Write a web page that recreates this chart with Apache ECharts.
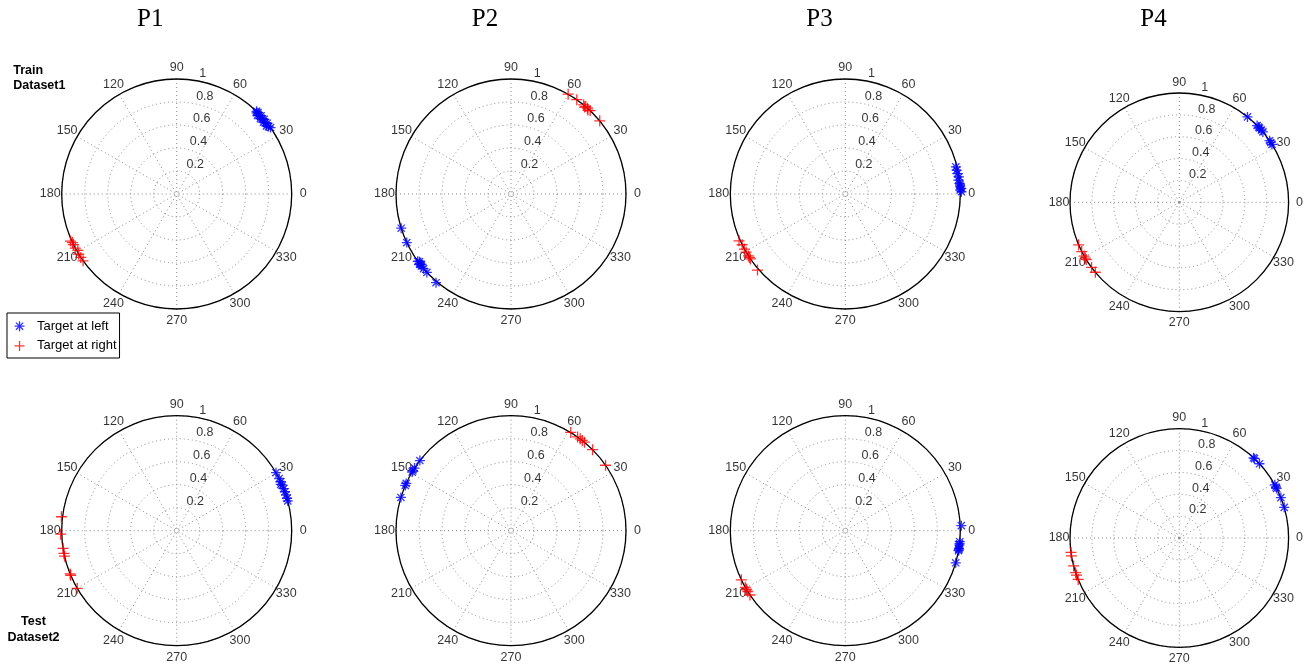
<!DOCTYPE html>
<html>
<head>
<meta charset="utf-8">
<script src="https://cdn.jsdelivr.net/npm/echarts@6/dist/echarts.min.js"></script>
<style>
html,body{margin:0;padding:0;background:#fff;}
#chart{width:1308px;height:666px;}
</style>
</head>
<body>
<div id="chart"></div>
<script>
// ---------- text / tick data ----------
const panelTitles = ['P1', 'P2', 'P3', 'P4'];
const rowLabels = ['Train\nDataset1', 'Test\nDataset2'];
const seriesNames = ['Target at left', 'Target at right'];
const angleTicks = [0, 30, 60, 90, 120, 150, 180, 210, 240, 270, 300, 330];
const radiusTicks = [0.2, 0.4, 0.6, 0.8, 1];

// ---------- series data: [radius, angle in degrees] ----------
const trainP1Left = [[1.0,46],[0.99,45.5],[1.0,45],[0.98,44.2],[0.99,43.5],[1.0,42.8],[0.98,42],[0.99,41.2],[1.0,40.5],[0.98,39.6],[0.99,38.8],[1.0,38],[0.98,37.2],[0.99,36.3],[1.0,35.3]];
const trainP1Right = [[1.01,203.9],[1.0,205],[1.0,206.1],[1.0,208.1],[0.99,209.7],[1.0,211.6],[1.0,213.5],[1.0,215.5]];

const trainP2Left = [[1.0,197.3],[1.0,205],[1.0,215.8],[0.99,216.5],[1.0,217.4],[1.0,217.8],[0.99,218.2],[1.0,218.8],[1.0,220.5],[1.0,223],[1.01,229.8]];
const trainP2Right = [[1.0,60.2],[1.0,55.1],[1.0,50.8],[0.99,49.8],[1.0,49.5],[1.0,48.3],[0.99,47.5],[1.0,46.5],[1.0,39.5]];

const trainP3Left = [[0.99,13.8],[0.99,12.1],[0.99,10.3],[1.0,8.6],[0.99,7.0],[1.0,5.3],[1.0,4.5],[1.0,3.6],[1.01,2.8],[1.0,2.0],[1.01,1.1]];
const trainP3Right = [[1.01,203.8],[1.0,206.2],[1.0,208.6],[1.0,210.4],[1.0,212.6],[1.0,213.5],[1.0,214.4],[1.01,220.9]];

const trainP4Left = [[1.0,51.4],[1.0,44.6],[1.0,43.5],[1.0,42.8],[1.0,41.3],[1.0,40.1],[1.0,34.3],[1.0,33.2],[1.0,32.0]];
const trainP4Right = [[1.0,202.9],[1.0,206.8],[1.0,209.5],[1.0,210.7],[1.0,211.6],[1.0,216.6],[1.0,219.8]];

const testP1Left = [[1.0,30.3],[1.0,27.0],[1.0,25.2],[0.99,24.0],[1.0,23.3],[1.0,21.5],[1.0,19.8],[1.0,18.1],[1.0,16.3],[1.0,15.0]];
const testP1Right = [[1.01,173.1],[1.01,181.7],[1.0,188.8],[1.0,191.4],[1.0,192.8],[1.0,202.1],[1.0,202.8],[1.0,210.1]];

const testP2Left = [[1.0,142.4],[1.0,147.0],[1.0,148.6],[1.0,149.3],[1.0,155.7],[1.0,156.8],[1.0,163.2]];
const testP2Right = [[1.0,58.7],[1.0,54.6],[1.0,53.0],[1.0,51.7],[1.0,50.3],[1.0,44.8],[1.0,34.7]];

const testP3Left = [[1.01,2.5],[1.0,354.5],[1.0,353.5],[1.0,352.8],[1.0,351.2],[1.0,350.6],[1.0,350.0],[1.0,343.8]];
const testP3Right = [[1.0,205.3],[1.0,209.5],[1.0,210.5],[1.0,211.0],[1.0,212.0],[1.0,214.0]];

const testP4Left = [[1.0,47.2],[1.0,46.5],[1.0,42.8],[1.0,29.1],[1.0,27.8],[1.0,27.0],[1.0,21.7],[1.0,16.3]];
const testP4Right = [[1.0,187.6],[1.0,189.4],[1.0,194.8],[1.0,198.5],[1.0,199.9],[1.0,202.3]];

const panelData = [
  [trainP1Left, trainP1Right], [trainP2Left, trainP2Right], [trainP3Left, trainP3Right], [trainP4Left, trainP4Right],
  [testP1Left, testP1Right], [testP2Left, testP2Right], [testP3Left, testP3Right], [testP4Left, testP4Right]
];

// ---------- layout / style ----------
const panels = [
  {cx:176.7, cy:194, r:115}, {cx:511, cy:194, r:115}, {cx:845.3, cy:194, r:115}, {cx:1179.3, cy:202.3, r:109.3},
  {cx:176.7, cy:530.7, r:115}, {cx:511, cy:530.7, r:115}, {cx:845.3, cy:530.7, r:115}, {cx:1179.3, cy:538, r:109.3}
];
const titleX = [150.3, 485, 819.5, 1153.5];
const titleY = 19.5;
const SANS = '"Liberation Sans", Arial, Helvetica, sans-serif';
const SERIF = '"Liberation Serif", "Times New Roman", serif';
const STAR = 'path://M0,-1L0,1M-1,0L1,0M-0.72,-0.72L0.72,0.72M-0.72,0.72L0.72,-0.72';
const PLUS = 'path://M0,-1L0,1M-1,0L1,0';
const BLUE = '#0000ff', RED = '#ff0000';
const GRID = '#8c8c8c';
const TICK_FONT = 12.5;
const LABEL_R = 1.1;     // MATLAB places angle labels at 1.1 * rmax
const RLABEL_ANGLE = 82; // MATLAB places radius labels at 82 degrees

const polar = panels.map(p => ({center: [p.cx, p.cy], radius: p.r}));
const angleAxis = panels.map((p, i) => ({
  polarIndex: i, type: 'value', min: 0, max: 360, interval: 30,
  startAngle: 0, clockwise: false,
  axisLine: {show: true, lineStyle: {color: '#000', width: 1.3}},
  axisTick: {show: false}, axisLabel: {show: false},
  splitLine: {show: true, lineStyle: {color: GRID, width: 1, type: [1, 3]}},
  z: 1
}));
const radiusAxis = panels.map((p, i) => ({
  polarIndex: i, type: 'value', min: 0, max: 1, interval: 0.2,
  axisLine: {show: false}, axisTick: {show: false}, axisLabel: {show: false},
  splitLine: {show: true, lineStyle: {color: GRID, width: 1, type: [1, 3]}},
  z: 0
}));

const series = [];
panels.forEach((p, i) => {
  series.push({
    type: 'scatter', coordinateSystem: 'polar', polarIndex: i, silent: true, clip: false,
    data: angleTicks.map(a => [LABEL_R, a]),
    symbol: 'circle', symbolSize: 1, itemStyle: {color: 'rgba(0,0,0,0)'},
    label: {show: true, position: 'inside', align: 'center', verticalAlign: 'middle',
      formatter: q => String(angleTicks[q.dataIndex]),
      color: '#000', fontSize: TICK_FONT, fontFamily: SANS},
    z: 2
  });
  series.push({
    type: 'scatter', coordinateSystem: 'polar', polarIndex: i, silent: true, clip: false,
    data: radiusTicks.map(r => [r + 0.01, RLABEL_ANGLE]),
    symbol: 'circle', symbolSize: 1, itemStyle: {color: 'rgba(0,0,0,0)'},
    label: {show: true, position: 'inside', align: 'left', verticalAlign: 'bottom', offset: [6.5, 1],
      formatter: q => String(radiusTicks[q.dataIndex]),
      color: '#000', fontSize: TICK_FONT, fontFamily: SANS},
    z: 2
  });
  series.push({
    type: 'scatter', coordinateSystem: 'polar', polarIndex: i, silent: true, clip: false,
    name: seriesNames[0], data: panelData[i][0],
    symbol: STAR, symbolSize: 10,
    itemStyle: {color: 'rgba(0,0,0,0)', borderColor: BLUE, borderWidth: 1.3},
    z: 3
  });
  series.push({
    type: 'scatter', coordinateSystem: 'polar', polarIndex: i, silent: true, clip: false,
    name: seriesNames[1], data: panelData[i][1],
    symbol: PLUS, symbolSize: 11,
    itemStyle: {color: 'rgba(0,0,0,0)', borderColor: RED, borderWidth: 1.3},
    z: 3
  });
});

const graphic = panelTitles.map((t, i) => ({
  type: 'text', x: titleX[i], y: titleY, silent: true,
  style: {text: t, font: '25px ' + SERIF, fill: '#000', align: 'center', verticalAlign: 'middle'}
}));
graphic.push({
  type: 'text', x: 13.3, y: 63.5, silent: true,
  style: {text: rowLabels[0], font: 'bold 12.5px ' + SANS, fill: '#000', align: 'left', verticalAlign: 'top', lineHeight: 15}
});
graphic.push({
  type: 'text', x: 33.5, y: 613.7, silent: true,
  style: {text: rowLabels[1], font: 'bold 12.5px ' + SANS, fill: '#000', align: 'center', verticalAlign: 'top', lineHeight: 16}
});

const option = {
  animation: false,
  backgroundColor: '#fff',
  polar, angleAxis, radiusAxis, series, graphic,
  legend: {
    data: [
      {name: seriesNames[0], icon: STAR, itemStyle: {color: 'rgba(0,0,0,0)', borderColor: BLUE, borderWidth: 1.3}},
      {name: seriesNames[1], icon: PLUS, itemStyle: {color: 'rgba(0,0,0,0)', borderColor: RED, borderWidth: 1.3}}
    ],
    orient: 'vertical', left: 7, top: 313,
    itemWidth: 25, itemHeight: 10, itemGap: 6.7,
    padding: [6.7, 3, 5.6, 6.9],
    borderColor: '#000', borderWidth: 1, backgroundColor: '#fff',
    selectedMode: false,
    textStyle: {fontSize: 13, color: '#000', fontFamily: SANS, lineHeight: 10}
  }
};

const chart = echarts.init(document.getElementById('chart'), null, {renderer: 'canvas'});
chart.setOption(option);
</script>
</body>
</html>
